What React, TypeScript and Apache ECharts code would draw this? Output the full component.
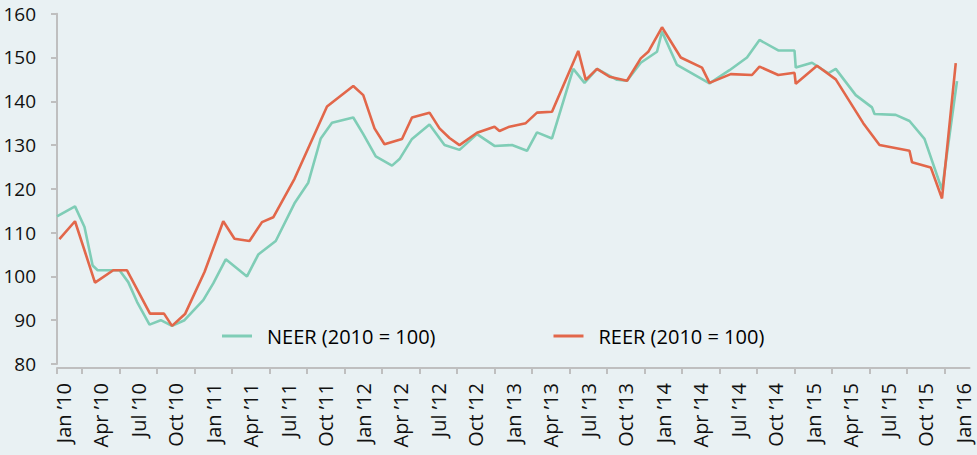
import React, { useEffect, useRef } from "react";
import * as echarts from "echarts";

// x values are months since 1 Jan 2010 (0 = 1 Jan 2010, 72 = 1 Jan 2016)
const neerMonths = [0, 1.44, 2.2, 2.85, 3.25, 5.0, 5.7, 6.4, 7.4, 8.3, 9.2, 10.2, 11.7, 12.5, 13.5, 15.2, 16.1, 17.5, 19.0, 20.1, 21.1, 22.0, 23.7, 24.5, 25.5, 26.8, 27.4, 28.4, 29.8, 31.0, 32.2, 33.6, 35.0, 36.4, 37.6, 38.4, 39.6, 41.3, 42.2, 43.2, 44.8, 45.6, 46.7, 48.0, 48.4, 49.6, 52.2, 53.8, 55.2, 56.2, 57.7, 59.0, 59.1, 60.4, 61.7, 62.3, 63.9, 65.2, 65.4, 67.1, 68.2, 69.4, 70.8, 72.0];
const neerValues = [113.7, 116.0, 111.3, 102.5, 101.4, 101.4, 98.7, 94.2, 89.0, 90.0, 88.7, 90.0, 94.6, 98.4, 103.9, 100.0, 105.0, 108.1, 116.7, 121.4, 131.5, 135.1, 136.3, 132.5, 127.4, 125.3, 126.8, 131.4, 134.7, 130.0, 128.9, 132.5, 129.8, 130.0, 128.7, 132.9, 131.5, 147.4, 144.2, 147.4, 144.9, 144.7, 148.8, 151.3, 155.9, 148.3, 144.1, 147.1, 150.0, 154.0, 151.6, 151.6, 147.7, 148.8, 146.4, 147.4, 141.4, 138.6, 137.1, 136.9, 135.5, 131.4, 119.8, 144.6];

const reerMonths = [0.19, 1.44, 3.04, 4.5, 5.6, 7.44, 8.56, 9.2, 10.24, 11.8, 13.3, 14.2, 15.4, 16.4, 17.3, 19.0, 21.6, 23.7, 24.5, 25.4, 26.2, 27.6, 28.4, 29.8, 30.6, 31.4, 32.2, 33.6, 35.0, 35.4, 36.2, 37.5, 38.4, 39.6, 41.7, 42.3, 43.2, 44.2, 45.6, 46.7, 47.3, 48.4, 49.9, 51.6, 52.2, 53.9, 55.6, 56.2, 57.7, 59.0, 59.1, 60.8, 62.3, 64.5, 65.8, 68.2, 68.4, 69.9, 70.8, 71.9];
const reerValues = [108.5, 112.6, 98.6, 101.4, 101.4, 91.5, 91.5, 88.7, 91.4, 101.0, 112.6, 108.6, 108.1, 112.4, 113.5, 122.3, 138.8, 143.5, 141.4, 133.8, 130.2, 131.4, 136.3, 137.4, 133.8, 131.6, 130.0, 132.8, 134.2, 133.2, 134.2, 135.0, 137.4, 137.6, 151.5, 144.9, 147.4, 145.6, 144.7, 149.8, 151.3, 156.9, 150.0, 147.7, 144.2, 146.2, 146.0, 147.9, 146.0, 146.5, 144.0, 148.1, 145.0, 135.0, 130.0, 128.7, 126.1, 124.9, 117.8, 148.7];

const tickLabels = ["Jan \u201910", "Apr \u201910", "Jul \u201910", "Oct \u201910", "Jan \u201911", "Apr \u201911", "Jul \u201911", "Oct \u201911", "Jan \u201912", "Apr \u201912", "Jul \u201912", "Oct \u201912", "Jan \u201913", "Apr \u201913", "Jul \u201913", "Oct \u201913", "Jan \u201914", "Apr \u201914", "Jul \u201914", "Oct \u201914", "Jan \u201915", "Apr \u201915", "Jul \u201915", "Oct \u201915", "Jan \u201916"];
// label at middle of the labelled month, ticks at month boundaries
const labelMonths = tickLabels.map((_, i) => i * 3 + 0.5);
const tickMonths = [0, ...tickLabels.slice(1).map((_, i) => i * 3 + 2)];

const seriesNames = ["NEER (2010 = 100)", "REER (2010 = 100)"];
const FONT = "'Open Sans', 'Liberation Sans', sans-serif";

export default function App() {
  const ref = useRef<HTMLDivElement>(null);
  useEffect(() => {
    if (!ref.current) return;
    const chart = echarts.init(ref.current, undefined, { renderer: "svg" });
    const neerData = neerMonths.map((m, i) => [m, neerValues[i]]);
    const reerData = reerMonths.map((m, i) => [m, reerValues[i]]);
    chart.setOption({
      animation: false,
      backgroundColor: "#e9f1f3",
      textStyle: { fontFamily: FONT },
      grid: { left: 57, right: 7.5, top: 13.7, bottom: 91, containLabel: false, outerBoundsMode: "none" },
      legend: {
        left: 217,
        top: 319,
        itemWidth: 30,
        itemHeight: 3,
        itemGap: 118,
        textStyle: { fontSize: 20, lineHeight: 24, color: "#000", fontFamily: FONT, padding: [0, 0, 0, 10] },
        data: [
          { name: seriesNames[0], icon: "rect" },
          { name: seriesNames[1], icon: "rect" },
        ],
      },
      xAxis: {
        type: "value",
        min: 0,
        max: 73,
        offset: 4,
        splitLine: { show: false },
        axisLine: { show: true, lineStyle: { color: "#bfbfbf", width: 2 } },
        axisTick: { show: true, length: 6, lineStyle: { color: "#bfbfbf", width: 2 }, customValues: tickMonths },
        axisLabel: {
          customValues: labelMonths,
          rotate: 90,
          margin: 15,
          fontSize: 20,
          color: "#111",
          fontFamily: FONT,
          formatter: (v: number) => tickLabels[Math.round((v - 0.5) / 3)] ?? "",
        },
      },
      yAxis: {
        type: "value",
        min: 80,
        max: 160,
        interval: 10,
        splitLine: { show: false },
        axisLine: { show: true, lineStyle: { color: "#bfbfbf", width: 2 } },
        axisTick: { show: true, length: 6, lineStyle: { color: "#bfbfbf", width: 2 } },
        axisLabel: { margin: 21, fontSize: 19, color: "#111", fontFamily: FONT },
      },
      series: [
        {
          name: seriesNames[0],
          type: "line",
          data: neerData,
          showSymbol: false,
          lineStyle: { color: "#7fcdb6", width: 2.6 },
          itemStyle: { color: "#7fcdb6" },
        },
        {
          name: seriesNames[1],
          type: "line",
          data: reerData,
          showSymbol: false,
          lineStyle: { color: "#e2674a", width: 2.6 },
          itemStyle: { color: "#e2674a" },
        },
      ],
    });
    return () => chart.dispose();
  }, []);
  return (
    <div
      ref={ref}
      style={{ position: "absolute", left: 0, top: 0, width: 977, height: 455, background: "#e9f1f3" }}
    />
  );
}
